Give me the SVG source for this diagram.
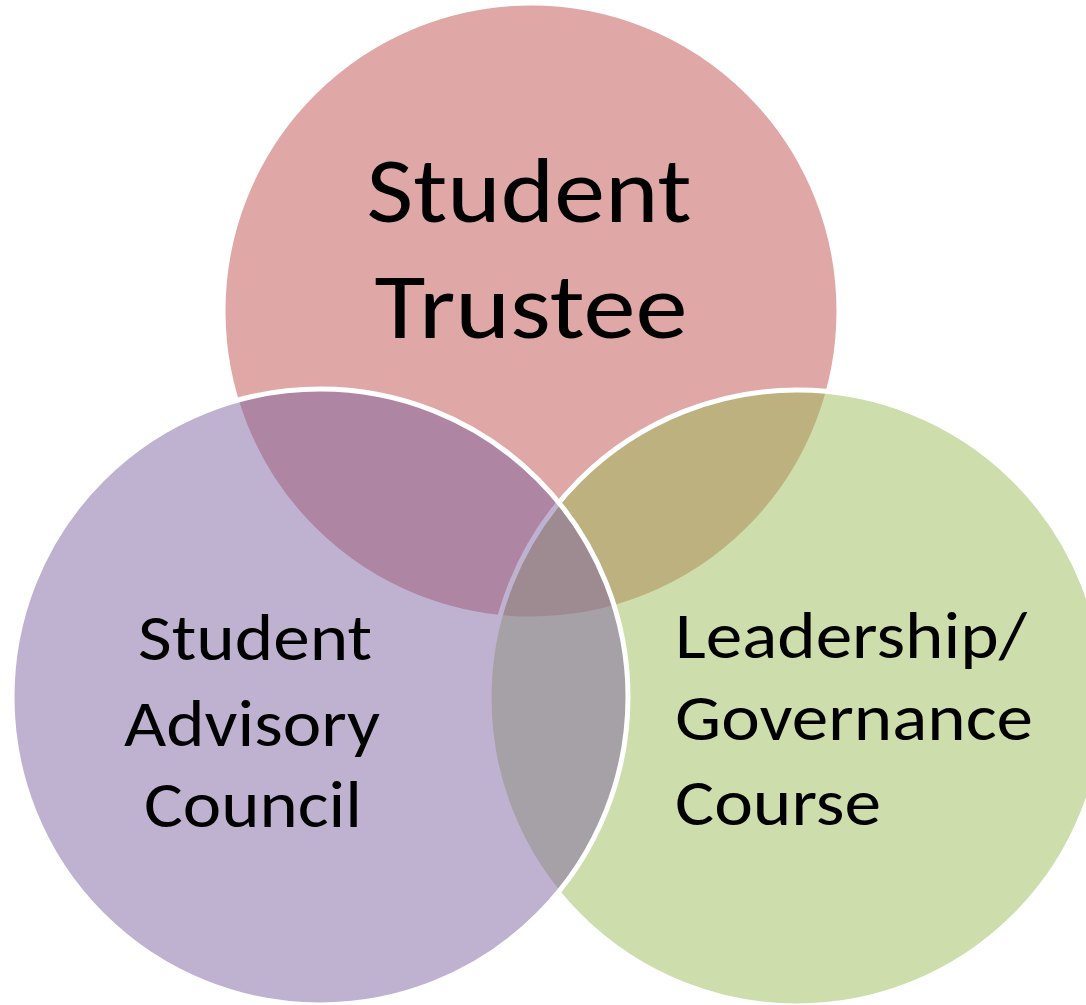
<svg xmlns="http://www.w3.org/2000/svg" width="1086" height="1005" viewBox="0 0 1086 1005">
  <style>
    .c { stroke: #FFFFFF; stroke-width: 5; fill-opacity: 0.5; }
    .t { font-family: Carlito, Calibri, Lato, "Noto Sans", sans-serif; fill: #000000; }
    .big { font-size: 92px; }
    .mid { font-size: 66px; }
  </style>
  <rect x="0" y="0" width="1086" height="1005" fill="#FFFFFF"/>
  <g id="node-student-trustee">
    <circle class="c" cx="531" cy="311" r="308" fill="#C0504D"/>
    <text class="t big" x="529" y="222" text-anchor="middle" textLength="325" lengthAdjust="spacingAndGlyphs">Student</text>
    <text class="t big" x="531" y="338" text-anchor="middle" textLength="313" lengthAdjust="spacingAndGlyphs">Trustee</text>
  </g>
  <g id="node-leadership-course">
    <circle class="c" cx="797" cy="698" r="308" fill="#9BBB59"/>
    <text class="t mid" x="675" y="658" textLength="352" lengthAdjust="spacingAndGlyphs">Leadership/</text>
    <text class="t mid" x="675" y="740" textLength="358" lengthAdjust="spacingAndGlyphs">Governance</text>
    <text class="t mid" x="675" y="825" textLength="206" lengthAdjust="spacingAndGlyphs">Course</text>
  </g>
  <g id="node-student-advisory-council">
    <circle class="c" cx="320" cy="697" r="308" fill="#8064A2"/>
    <text class="t mid" x="255" y="660" text-anchor="middle" textLength="234" lengthAdjust="spacingAndGlyphs">Student</text>
    <text class="t mid" x="252" y="746" text-anchor="middle" textLength="256" lengthAdjust="spacingAndGlyphs">Advisory</text>
    <text class="t mid" x="253" y="827" text-anchor="middle" textLength="218" lengthAdjust="spacingAndGlyphs">Council</text>
  </g>
  <g id="connectors"/>
</svg>
